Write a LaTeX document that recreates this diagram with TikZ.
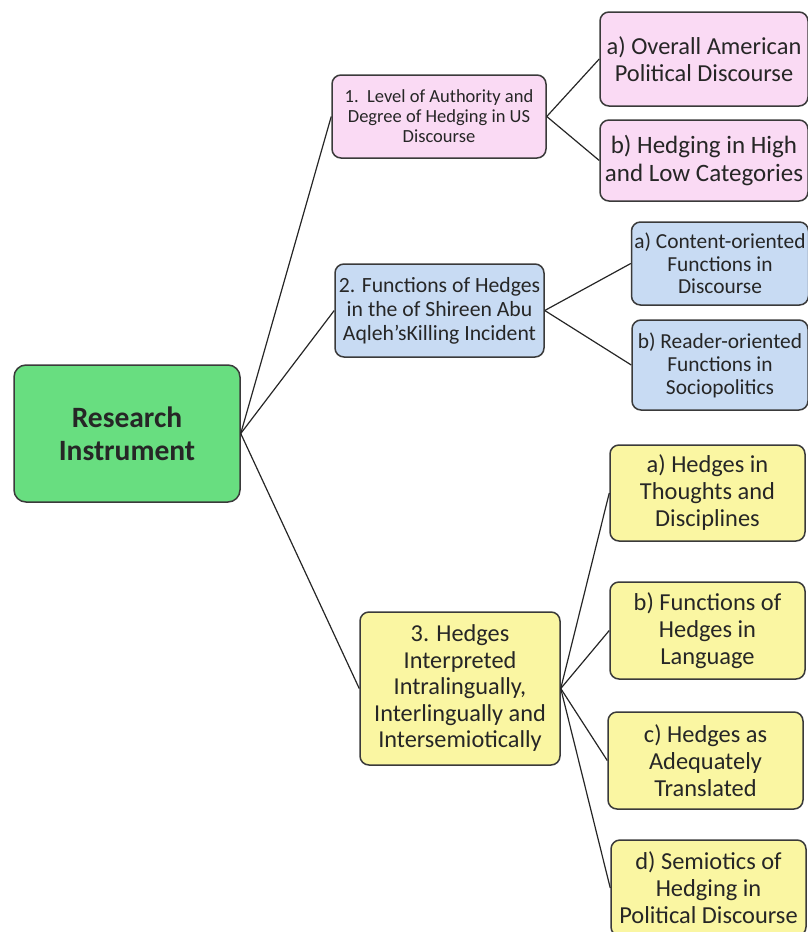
\documentclass[tikz,border=0pt]{standalone}
\usepackage{fontspec}
\setmainfont{Carlito}
\definecolor{bordc}{HTML}{3A3A3A}
\definecolor{pinkf}{HTML}{FADAF4}
\definecolor{bluef}{HTML}{C8DBF3}
\definecolor{yellf}{HTML}{FAF6A2}
\definecolor{greenf}{HTML}{68DE80}
\tikzset{
  boxbase/.style={draw=bordc, line width=1.5pt, rounded corners=9pt, align=center, inner sep=0pt, text=black!85},
  pinkbox/.style={boxbase, fill=pinkf},
  bluebox/.style={boxbase, fill=bluef},
  yellbox/.style={boxbase, fill=yellf},
  greenbox/.style={boxbase, fill=greenf, rounded corners=12pt},
  conn/.style={draw=black!85, line width=1.2pt}
}
\newcommand{\bsz}[2]{\fontsize{#1}{#2}\selectfont}
\begin{document}
\begin{tikzpicture}[x=1pt,y=-1pt]
\useasboundingbox (0,0) rectangle (808,932);
% root
\node[greenbox, minimum width=226pt, minimum height=137pt, font=\bsz{29.5}{33}\bfseries] (root) at (127,433.5) {Research\\Instrument};
% level 1
\node[pinkbox, minimum width=214pt, minimum height=83pt, font=\bsz{18.5}{20}] (n1) at (439,116.5) {1.\ \ Level of Authority and\\Degree of Hedging in US\\Discourse};
\node[bluebox, minimum width=209pt, minimum height=93pt, font=\bsz{21.7}{24}] (n2) at (439.5,310.5) {2. Functions of Hedges\\in the of Shireen Abu\\Aqleh’sKilling Incident};
\node[yellbox, minimum width=200pt, minimum height=153pt, font=\bsz{24.3}{26.5}] (n3) at (460,688.5) {3. Hedges\\Interpreted\\Intralingually,\\Interlingually and\\Intersemiotically};
% level 2 pink
\node[pinkbox, minimum width=208pt, minimum height=94pt, font=\bsz{24.4}{27.5}] (n1a) at (704,59) {a) Overall American\\Political Discourse};
\node[pinkbox, minimum width=208pt, minimum height=81pt, font=\bsz{25}{28}] (n1b) at (704,160.5) {b) Hedging in High\\and Low Categories};
% level 2 blue
\node[bluebox, minimum width=177pt, minimum height=83pt, font=\bsz{21.4}{22.5}] (n2a) at (720,263.5) {a) Content-oriented\\Functions in\\Discourse};
\node[bluebox, minimum width=176pt, minimum height=90pt, font=\bsz{21.4}{23}] (n2b) at (720,365) {b) Reader-oriented\\Functions in\\Sociopolitics};
% level 2 yellow
\node[yellbox, minimum width=195pt, minimum height=96pt, font=\bsz{24.4}{27}] (n3a) at (707.5,493) {a) Hedges in\\Thoughts and\\Disciplines};
\node[yellbox, minimum width=195pt, minimum height=97pt, font=\bsz{24.4}{27}] (n3b) at (707.5,630.5) {b) Functions of\\Hedges in\\Language};
\node[yellbox, minimum width=195pt, minimum height=97pt, font=\bsz{24.4}{27}] (n3c) at (705.5,760.5) {c) Hedges as\\Adequately\\Translated};
\node[yellbox, minimum width=195pt, minimum height=96pt, font=\bsz{24.4}{27}] (n3d) at (708.5,888) {d) Semiotics of\\Hedging in\\Political Discourse};
% connectors
\draw[conn] (root.east) -- (n1.west);
\draw[conn] (root.east) -- (n2.west);
\draw[conn] (root.east) -- (n3.west);
\draw[conn] (n1.east) -- (n1a.west);
\draw[conn] (n1.east) -- (n1b.west);
\draw[conn] (n2.east) -- (n2a.west);
\draw[conn] (n2.east) -- (n2b.west);
\draw[conn] (n3.east) -- (n3a.west);
\draw[conn] (n3.east) -- (n3b.west);
\draw[conn] (n3.east) -- (n3c.west);
\draw[conn] (n3.east) -- (n3d.west);
\end{tikzpicture}
\end{document}
